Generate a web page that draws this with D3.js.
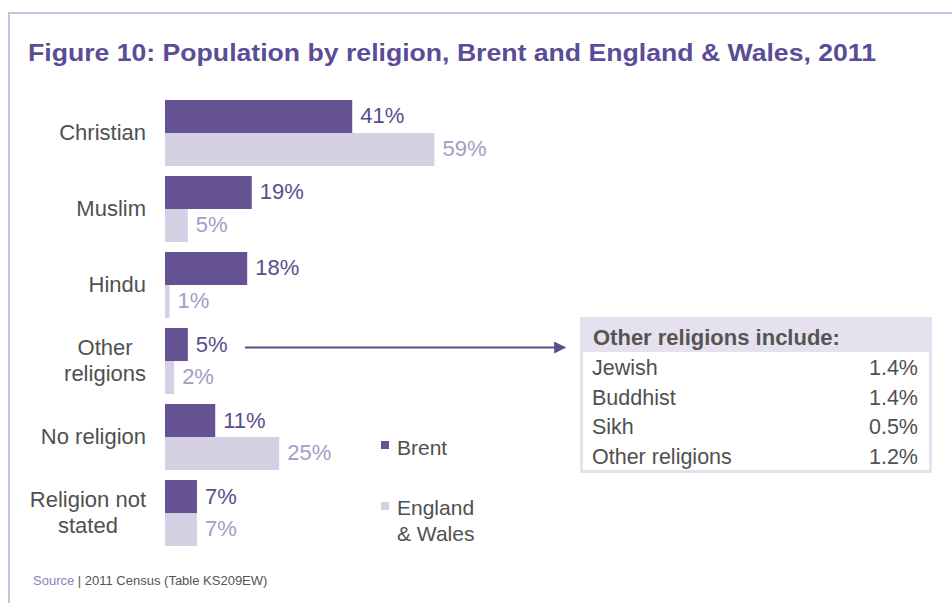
<!DOCTYPE html>
<html>
<head>
<meta charset="utf-8">
<script src="https://cdn.jsdelivr.net/npm/d3@7"></script>
<style>
  html, body { margin: 0; padding: 0; background: #ffffff; }
  svg { display: block; font-family: "Liberation Sans", Arial, sans-serif; }
</style>
</head>
<body>
<svg id="chart" width="952" height="603"></svg>
<script>
// Religion shares (%) for Brent and for England & Wales, 2011 Census
const categories = ["Christian", "Muslim", "Hindu", "Other religions", "No religion", "Religion not stated"];
const categoryLines = [["Christian"], ["Muslim"], ["Hindu"], ["Other", "religions"], ["No religion"], ["Religion not", "stated"]];
const seriesNames = ["Brent", "England & Wales"];
const brent = [41, 19, 18, 5, 11, 7];
const englandWales = [59, 5, 1, 2, 25, 7];

// Breakdown of "Other religions" in Brent
const otherNames = ["Jewish", "Buddhist", "Sikh", "Other religions"];
const otherValues = [1.4, 1.4, 0.5, 1.2];

const colors = { "Brent": "#645292", "England & Wales": "#d6d0e4" };
const labelColors = { "Brent": "#5c4c8c", "England & Wales": "#a49cc6" };
const textGray = "#505050";

const svg = d3.select("#chart");

// Frame lines
svg.append("line").attr("x1", 9).attr("x2", 952).attr("y1", 13).attr("y2", 13)
  .attr("stroke", "#c9c2dd").attr("stroke-width", 2);
svg.append("line").attr("x1", 9).attr("x2", 9).attr("y1", 12).attr("y2", 603)
  .attr("stroke", "#c9c2dd").attr("stroke-width", 2);

// Title
svg.append("text")
  .attr("x", 28).attr("y", 61)
  .attr("font-size", 24).attr("font-weight", "bold")
  .attr("fill", "#5b4c97")
  .attr("textLength", 848).attr("lengthAdjust", "spacingAndGlyphs")
  .text("Figure 10: Population by religion, Brent and England & Wales, 2011");

// Scales
const x = d3.scaleLinear().domain([0, 60]).range([165, 439]);
const y = d3.scaleBand().domain(categories).range([100, 546]).paddingInner(0.132).paddingOuter(0);
const ySub = d3.scaleBand().domain(seriesNames).range([0, y.bandwidth()]).padding(0);

const rows = categories.map((c, i) => ({
  cat: c, lines: categoryLines[i],
  values: [{ s: "Brent", v: brent[i] }, { s: "England & Wales", v: englandWales[i] }]
}));

const groups = svg.append("g").selectAll("g").data(rows).join("g")
  .attr("transform", d => `translate(0,${y(d.cat)})`);

groups.selectAll("rect").data(d => d.values).join("rect")
  .attr("x", x(0))
  .attr("y", d => ySub(d.s))
  .attr("width", d => x(d.v) - x(0))
  .attr("height", ySub.bandwidth())
  .attr("fill", d => colors[d.s]);

groups.selectAll("text.val").data(d => d.values).join("text")
  .attr("class", "val")
  .attr("x", d => x(d.v) + 8)
  .attr("y", d => ySub(d.s) + ySub.bandwidth() / 2 + 7)
  .attr("font-size", 22)
  .attr("fill", d => labelColors[d.s])
  .text(d => d.v + "%");

// Category labels: multi-line labels are centred on their widest line, block right-aligned
const labelRight = 146;
groups.each(function (d) {
  const g = d3.select(this);
  const t = g.append("text").attr("font-size", 22).attr("fill", textGray)
    .attr("text-anchor", "middle");
  const lh = 26;
  const cy = y.bandwidth() / 2;
  const top = cy - (d.lines.length - 1) * lh / 2 + 7;
  d.lines.forEach((ln, k) => {
    t.append("tspan").attr("y", top + k * lh).text(ln);
  });
  let maxW = 0;
  t.selectAll("tspan").each(function () { maxW = Math.max(maxW, this.getComputedTextLength()); });
  t.selectAll("tspan").attr("x", labelRight - maxW / 2);
});

// Legend
const legend = svg.append("g");
legend.append("rect").attr("x", 381).attr("y", 441).attr("width", 8).attr("height", 8).attr("fill", colors["Brent"]);
legend.append("text").attr("x", 397).attr("y", 455).attr("font-size", 21).attr("fill", textGray).text("Brent");
legend.append("rect").attr("x", 381).attr("y", 502).attr("width", 8).attr("height", 8).attr("fill", colors["England & Wales"]);
const lt = legend.append("text").attr("font-size", 21).attr("fill", textGray);
lt.append("tspan").attr("x", 397).attr("y", 515).text("England");
lt.append("tspan").attr("x", 397).attr("y", 541).text("& Wales");

// Arrow from the "Other religions" Brent bar to the breakdown box
const otherIdx = categories.indexOf("Other religions");
const arrowY = y(categories[otherIdx]) + ySub("Brent") + ySub.bandwidth() / 2 + 3;
svg.append("defs").append("marker")
  .attr("id", "head").attr("viewBox", "0 0 10 10").attr("refX", 9).attr("refY", 5)
  .attr("markerWidth", 6).attr("markerHeight", 6).attr("orient", "auto")
  .append("path").attr("d", "M0,0 L10,5 L0,10 z").attr("fill", "#5c4c8c");
svg.append("line")
  .attr("x1", 245).attr("x2", 565).attr("y1", arrowY).attr("y2", arrowY)
  .attr("stroke", "#5c4c8c").attr("stroke-width", 2)
  .attr("marker-end", "url(#head)");

// Breakdown box
const box = svg.append("g").attr("transform", "translate(580,317)");
box.append("rect").attr("width", 352).attr("height", 156).attr("fill", "#e5e1ef");
box.append("rect").attr("x", 3).attr("y", 35).attr("width", 346).attr("height", 118).attr("fill", "#ffffff");
box.append("text").attr("x", 13).attr("y", 28).attr("font-size", 22).attr("font-weight", "bold")
  .attr("fill", "#555555").text("Other religions include:");
const rowY = d3.scaleBand().domain(otherNames).range([36, 154]);
otherNames.forEach((n, i) => {
  box.append("text").attr("x", 12).attr("y", rowY(n) + 22).attr("font-size", 21.5)
    .attr("fill", textGray).text(n);
  box.append("text").attr("x", 338).attr("y", rowY(n) + 22).attr("font-size", 21.5)
    .attr("text-anchor", "end").attr("fill", textGray).text(otherValues[i].toFixed(1) + "%");
});

// Source note
const src = svg.append("text").attr("x", 33).attr("y", 585).attr("font-size", 13);
src.append("tspan").attr("fill", "#8b82bb").text("Source");
src.append("tspan").attr("fill", "#555555").text(" | 2011 Census (Table KS209EW)");
</script>
</body>
</html>
